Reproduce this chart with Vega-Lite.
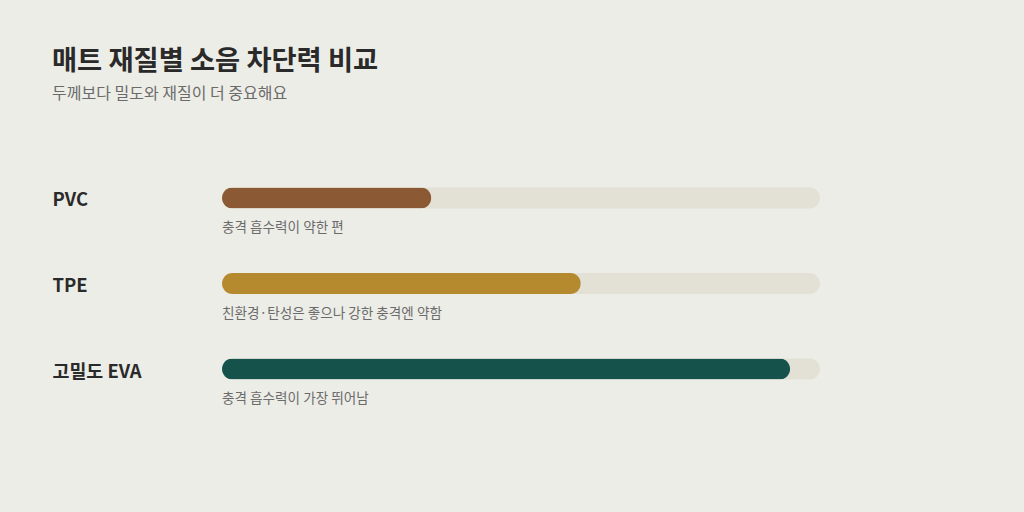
{
  "$schema": "https://vega.github.io/schema/vega-lite/v6.json",
  "autosize": {"type": "none"},
  "padding": {"left": 222, "top": 150, "right": 204, "bottom": 95},
  "width": 598,
  "height": 267,
  "background": "#EDEDE7",
  "title": {
    "text": "매트 재질별 소음 차단력 비교",
    "subtitle": "두께보다 밀도와 재질이 더 중요해요",
    "anchor": "start",
    "frame": "bounds",
    "font": "Noto Sans CJK KR",
    "fontSize": 27.3,
    "fontWeight": "bold",
    "color": "#2A2A2A",
    "subtitleFont": "Noto Sans CJK KR",
    "subtitleFontSize": 16,
    "subtitleColor": "#6B6B6B",
    "subtitlePadding": 11,
    "offset": 48
  },
  "data": {
    "values": [
      {"material": "PVC", "score": 0.35, "note": "충격 흡수력이 약한 편", "color": "#8B5A34"},
      {"material": "TPE", "score": 0.60, "note": "친환경·탄성은 좋으나 강한 충격엔 약함", "color": "#B5892E"},
      {"material": "고밀도 EVA", "score": 0.95, "note": "충격 흡수력이 가장 뛰어남", "color": "#14524B"}
    ]
  },
  "encoding": {
    "y": {
      "field": "material",
      "type": "nominal",
      "sort": null,
      "scale": {"type": "point", "padding": 0.56},
      "axis": {
        "title": null,
        "domain": false,
        "ticks": false,
        "labelAlign": "left",
        "labelPadding": 170,
        "labelOffset": 2,
        "labelFont": "Noto Sans CJK KR",
        "labelFontSize": 18.4,
        "labelFontWeight": "bold",
        "labelColor": "#2A2A2A"
      }
    }
  },
  "layer": [
    {
      "mark": {"type": "bar", "size": 21, "cornerRadius": 10.5, "color": "#E3E1D6"},
      "encoding": {
        "x": {"datum": 1, "type": "quantitative", "scale": {"domain": [0, 1]}, "axis": null}
      }
    },
    {
      "mark": {"type": "bar", "size": 21, "cornerRadius": 10.5},
      "encoding": {
        "x": {"field": "score", "type": "quantitative"},
        "color": {"field": "color", "type": "nominal", "scale": null, "legend": null}
      }
    },
    {
      "mark": {"type": "text", "align": "left", "baseline": "middle", "dy": 30, "font": "Noto Sans CJK KR", "fontSize": 13.6, "color": "#6B6B6B"},
      "encoding": {
        "x": {"datum": 0, "type": "quantitative"},
        "text": {"field": "note"}
      }
    }
  ],
  "config": {"view": {"stroke": null}}
}
